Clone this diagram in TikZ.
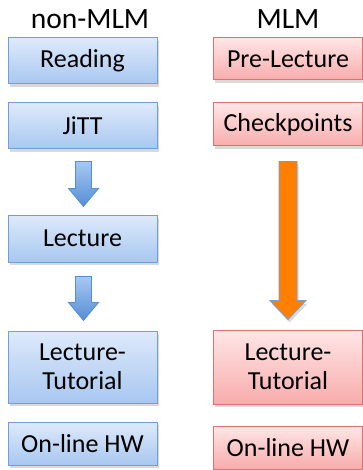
\documentclass[tikz,border=0pt]{standalone}
\usepackage{fontspec}
\setmainfont{Carlito}
\usetikzlibrary{calc}
\usetikzlibrary{shadows}

\definecolor{bluetop}{RGB}{222,234,251}
\definecolor{bluebot}{RGB}{168,199,240}
\definecolor{blueline}{RGB}{112,158,222}
\definecolor{redtop}{RGB}{255,230,230}
\definecolor{redbot}{RGB}{248,172,172}
\definecolor{redline}{RGB}{222,112,112}
\definecolor{arrowtop}{RGB}{168,200,242}
\definecolor{arrowbot}{RGB}{84,142,212}
\definecolor{arroworange}{RGB}{255,128,0}

\tikzset{
  boxbase/.style={rectangle, minimum width=149pt, inner sep=0pt, align=center,
    font=\fontsize{26}{29}\selectfont, line width=1pt,
    drop shadow={shadow xshift=1.5pt, shadow yshift=-3pt, opacity=0.25, fill=black!60}},
  bluebox/.style={boxbase, draw=blueline, top color=bluetop, bottom color=bluebot},
  redbox/.style={boxbase, draw=redline, top color=redtop, bottom color=redbot},
  heading/.style={font=\fontsize{29.5}{32}\selectfont}
}

% down block arrow: start, end, shaft half width, head half width, head length
\newcommand{\blockarrow}[6]{%
  \path[#6] let \p1=(#1), \p2=(#2) in
    (\x1-#3pt,\y1) -- (\x1+#3pt,\y1) -- (\x1+#3pt,\y2+#5pt) -- (\x1+#4pt,\y2+#5pt)
    -- (\x1,\y2) -- (\x1-#4pt,\y2+#5pt) -- (\x1-#3pt,\y2+#5pt) -- cycle;}

\begin{document}
\begin{tikzpicture}[x=1pt,y=-1pt]
  \useasboundingbox (0,0) rectangle (363,470);

  \node[heading] (nonmlm) at (90,19) {non-MLM};
  \node[heading] (mlm) at (288,19) {MLM};

  % non-MLM column
  \node[bluebox, minimum height=46pt] (reading) at (82.5,61) {Reading};
  \node[bluebox, minimum height=46pt] (jitt) at (82.5,126) {JiTT};
  \node[bluebox, minimum height=47pt] (lecture) at (82.5,238.5) {Lecture};
  \node[bluebox, minimum height=72pt] (lectut) at (82.5,367) {Lecture-\\Tutorial};
  \node[bluebox, minimum height=43pt] (hw) at (82.5,443.5) {On-line HW};

  % MLM column
  \node[redbox, minimum height=42pt] (prelecture) at (288,59) {Pre-Lecture};
  \node[redbox, minimum height=43pt] (checkpoints) at (288,124.5) {Checkpoints};
  \node[redbox, minimum height=74pt] (mlmlectut) at (288,367) {Lecture-\\Tutorial};
  \node[redbox, minimum height=43pt] (mlmhw) at (288,447.5) {On-line HW};

  \coordinate (a1s) at ($ (jitt.south)+(1,12) $);
  \coordinate (a1e) at ($ (lecture.north)+(1,-8) $);
  \coordinate (a2s) at ($ (lecture.south)+(1,14) $);
  \coordinate (a2e) at ($ (lectut.north)+(1,-10) $);
  \coordinate (a3s) at ($ (checkpoints.south)+(0,15) $);
  \coordinate (a3e) at ($ (mlmlectut.north)+(0,-10) $);

  \blockarrow{a1s}{a1e}{8}{15}{18}{draw=arrowbot, line width=0.8pt, top color=arrowtop, bottom color=arrowbot}
  \blockarrow{a2s}{a2e}{8}{15}{18}{draw=arrowbot, line width=0.8pt, top color=arrowtop, bottom color=arrowbot}
  \blockarrow{a3s}{a3e}{9}{18}{19}{draw=blueline, line width=0.8pt, fill=arroworange,
    drop shadow={shadow xshift=1.5pt, shadow yshift=-3pt, opacity=0.25, fill=black!60}}

\end{tikzpicture}
\end{document}
